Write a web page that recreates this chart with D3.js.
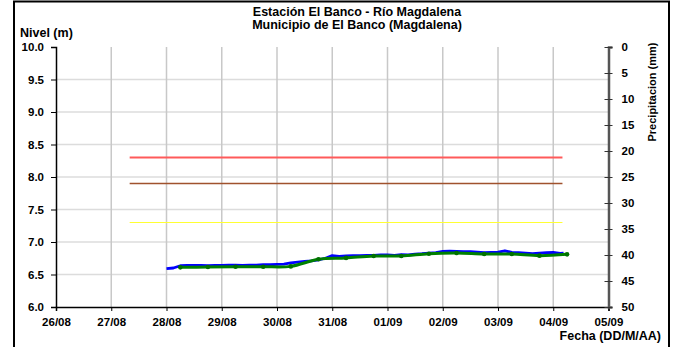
<!DOCTYPE html>
<html>
<head>
<meta charset="utf-8">
<script src="https://cdn.jsdelivr.net/npm/d3@7/dist/d3.min.js"></script>
<style>
  html, body { margin: 0; padding: 0; background: #fff; }
  svg { display: block; font-family: "Liberation Sans", Arial, sans-serif; font-weight: bold; }
</style>
</head>
<body>
<svg id="chart" width="673" height="347"></svg>
<script>
// ---------- DATA ----------
const titleLines = ["Estación El Banco - Río Magdalena", "Municipio de El Banco (Magdalena)"];
const yLabel = "Nivel (m)";
const y2Label = "Precipitacion (mm)";
const xLabel = "Fecha (DD/M/AA)";

const dateTicks = ["26/08","27/08","28/08","29/08","30/08","31/08","01/09","02/09","03/09","04/09","05/09"];
const levelTicks = [6.0, 6.5, 7.0, 7.5, 8.0, 8.5, 9.0, 9.5, 10.0];
const precipTicks = [0, 5, 10, 15, 20, 25, 30, 35, 40, 45, 50];

// Observed level (blue)
const blueTimes = [
  "28/08 00:00","28/08 03:00","28/08 06:00","28/08 09:00","28/08 12:00","28/08 15:00","28/08 18:00","28/08 21:00",
  "29/08 00:00","29/08 03:00","29/08 06:00","29/08 09:00","29/08 12:00","29/08 15:00","29/08 18:00","29/08 21:00",
  "30/08 00:00","30/08 03:00","30/08 06:00","30/08 09:00","30/08 12:00","30/08 15:00","30/08 18:00","30/08 21:00",
  "31/08 00:00","31/08 03:00","31/08 06:00","31/08 09:00","31/08 12:00","31/08 15:00","31/08 18:00","31/08 21:00",
  "01/09 00:00","01/09 03:00","01/09 06:00","01/09 09:00","01/09 12:00","01/09 15:00","01/09 18:00","01/09 21:00",
  "02/09 00:00","02/09 03:00","02/09 06:00","02/09 09:00","02/09 12:00","02/09 15:00","02/09 18:00","02/09 21:00",
  "03/09 00:00","03/09 03:00","03/09 06:00","03/09 09:00","03/09 12:00","03/09 15:00","03/09 18:00","03/09 21:00",
  "04/09 00:00","04/09 03:00","04/09 04:30"
];
const blueLevels = [
  6.59, 6.60, 6.635, 6.64, 6.64, 6.64, 6.635, 6.64,
  6.64, 6.645, 6.645, 6.64, 6.645, 6.645, 6.65, 6.65,
  6.655, 6.66, 6.68, 6.69, 6.70, 6.71, 6.725, 6.75,
  6.79, 6.78, 6.785, 6.79, 6.79, 6.795, 6.795, 6.80,
  6.80, 6.795, 6.805, 6.80, 6.815, 6.82, 6.83, 6.835,
  6.855, 6.86, 6.855, 6.85, 6.85, 6.845, 6.835, 6.84,
  6.845, 6.865, 6.84, 6.835, 6.83, 6.82, 6.83, 6.835,
  6.84, 6.825, 6.83
];

// Smoothed level (green)
const greenTimes = [
  "28/08 06:00","28/08 18:00","29/08 06:00","29/08 18:00","30/08 06:00","30/08 18:00",
  "31/08 06:00","31/08 18:00","01/09 06:00","01/09 18:00","02/09 06:00","02/09 18:00",
  "03/09 06:00","03/09 18:00","04/09 06:00"
];
const greenLevels = [6.61, 6.615, 6.62, 6.62, 6.625, 6.735, 6.755, 6.785, 6.785, 6.82, 6.83, 6.815, 6.815, 6.79, 6.81];

// Alert thresholds
const thresholdLevels = [8.3, 7.9, 7.3];
const thresholdColors = ["#ff5a5a", "#a0522d", "#ffff33"];
const thresholdWidths = [2, 1.5, 1];
const thresholdStart = "27/08 08:00";
const thresholdEnd = "04/09 04:00";

// ---------- CHART ----------
const parse = d3.timeParse("%d/%m %H:%M");
const parseDay = d3.timeParse("%d/%m");
const svg = d3.select("#chart");

const M = { left: 56, right: 608.5, top: 47, bottom: 307 };

const x = d3.scaleTime().domain([parseDay(dateTicks[0]), parseDay(dateTicks[dateTicks.length - 1])]).range([M.left, M.right]);
const y = d3.scaleLinear().domain([6, 10]).range([M.bottom, M.top]);
const y2 = d3.scaleLinear().domain([0, 50]).range([M.top, M.bottom]);

// outer frame
svg.append("rect").attr("x", 14).attr("y", 1.5).attr("width", 655).attr("height", 360)
  .attr("fill", "none").attr("stroke", "#000").attr("stroke-width", 2);

// gridlines
svg.append("g").selectAll("line").data(levelTicks.filter(v => v > 6 && v < 10)).join("line")
  .attr("x1", M.left).attr("x2", M.right).attr("y1", d => y(d)).attr("y2", d => y(d))
  .attr("stroke", "#dcdcdc").attr("stroke-width", 1.5);
svg.append("g").selectAll("line").data(dateTicks.slice(1, -1)).join("line")
  .attr("x1", d => x(parseDay(d))).attr("x2", d => x(parseDay(d))).attr("y1", M.top).attr("y2", M.bottom)
  .attr("stroke", "#c8c8c8").attr("stroke-width", 1.5);

// thresholds
svg.append("g").selectAll("line").data(thresholdLevels).join("line")
  .attr("x1", x(parse(thresholdStart))).attr("x2", x(parse(thresholdEnd)))
  .attr("y1", d => y(d)).attr("y2", d => y(d))
  .attr("stroke", (d, i) => thresholdColors[i]).attr("stroke-width", (d, i) => thresholdWidths[i]);

// blue series
const blueData = blueTimes.map((t, i) => ({ t: parse(t), v: blueLevels[i] }));
svg.append("path").datum(blueData)
  .attr("d", d3.line().x(d => x(d.t)).y(d => y(d.v)))
  .attr("fill", "none").attr("stroke", "#0000ff").attr("stroke-width", 2.8).attr("stroke-linejoin", "round");

// green series
const greenData = greenTimes.map((t, i) => ({ t: parse(t), v: greenLevels[i] }));
svg.append("path").datum(greenData)
  .attr("d", d3.line().curve(d3.curveCatmullRom).x(d => x(d.t)).y(d => y(d.v)))
  .attr("fill", "none").attr("stroke", "#008000").attr("stroke-width", 3);
svg.append("g").selectAll("circle").data(greenData).join("circle")
  .attr("cx", d => x(d.t)).attr("cy", d => y(d.v)).attr("r", 2.3).attr("fill", "#007000");

// left axis
const gl = svg.append("g").attr("transform", `translate(${M.left},0)`)
  .call(d3.axisLeft(y).tickValues(levelTicks).tickFormat(d3.format(".1f")).tickSize(5).tickPadding(7));
gl.select(".domain").attr("stroke", "#000").attr("stroke-width", 1.5);
gl.selectAll("text").attr("font-size", 11.5).attr("font-family", "Liberation Sans, Arial").attr("font-weight", "bold").attr("fill", "#000");

// bottom axis
const gb = svg.append("g").attr("transform", `translate(0,${M.bottom})`)
  .call(d3.axisBottom(x).tickValues(dateTicks.map(d => parseDay(d))).tickFormat(d3.timeFormat("%d/%m")).tickSize(4).tickPadding(7));
gb.select(".domain").attr("stroke", "#000").attr("stroke-width", 1.5);
gb.selectAll("text").attr("font-size", 11.5).attr("font-family", "Liberation Sans, Arial").attr("font-weight", "bold").attr("fill", "#000");

// right axis
const gr = svg.append("g").attr("transform", `translate(${M.right},0)`)
  .call(d3.axisRight(y2).tickValues(precipTicks).tickSize(4).tickPadding(9));
gr.select(".domain").attr("stroke", "#555").attr("stroke-width", 2.5);
gr.selectAll(".tick line").attr("x1", -4).attr("x2", 4).attr("stroke", "#333");
gr.selectAll("text").attr("font-size", 11.5).attr("font-family", "Liberation Sans, Arial").attr("font-weight", "bold").attr("fill", "#000").attr("text-anchor", "start");

// titles
svg.append("g").selectAll("text").data(titleLines).join("text")
  .attr("x", 357).attr("y", (d, i) => 15.5 + i * 13.5).attr("text-anchor", "middle")
  .attr("font-size", 12.5).text(d => d);
svg.append("text").attr("x", 20).attr("y", 37).attr("font-size", 12.5).text(yLabel);
svg.append("text").attr("x", 661).attr("y", 340).attr("text-anchor", "end").attr("font-size", 12.5).text(xLabel);
svg.append("text").attr("transform", "translate(656,92) rotate(-90)").attr("text-anchor", "middle")
  .attr("font-size", 11).text(y2Label);
</script>
</body>
</html>
